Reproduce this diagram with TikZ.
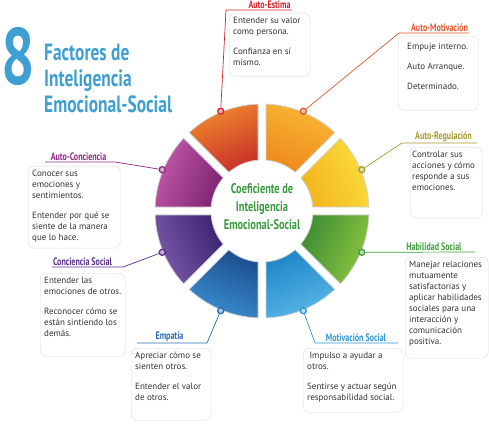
\documentclass[tikz,border=0pt]{standalone}
\usepackage{fontspec}
\setmainfont{PT Sans}
\newfontfamily\condfont[FakeStretch=0.74]{PT Sans}

\definecolor{titleblue}{HTML}{3D9FD3}
\definecolor{coefgreen}{HTML}{3A9A3D}
\definecolor{cEstima}{HTML}{D0232C}
\definecolor{cMotiv}{HTML}{E2572C}
\definecolor{cRegul}{HTML}{A39D2E}
\definecolor{cHabil}{HTML}{3E9F3A}
\definecolor{cMotSoc}{HTML}{2D96D2}
\definecolor{cEmpat}{HTML}{2C6AB0}
\definecolor{cConcSoc}{HTML}{5A2E8A}
\definecolor{cAutoConc}{HTML}{8C2A7F}

\tikzset{
  note/.style={draw=gray!30, fill=white, rounded corners=6pt, inner sep=4pt,
    anchor=north west, text=black!80, font=\fontsize{9}{11}\selectfont},
  head/.style={font=\condfont\bfseries\fontsize{10.8}{12}\selectfont, text=#1,
    inner sep=1.2pt, anchor=south},
  conn/.style={draw=#1, line width=0.7pt},
  dot/.style={circle, draw=#1, fill=#1!35!white, line width=1.3pt,
    inner sep=0pt, minimum size=6pt},
  segment/.style={draw=gray!35, line width=0.8pt},
}
\newcommand{\notetext}[3]{\begin{minipage}[t][#2][t]{#1}\raggedright #3\end{minipage}}

\begin{document}
\begin{tikzpicture}[x=1pt,y=1pt]
\useasboundingbox (0,0) rectangle (489,423);
\coordinate (ctr) at (262,212);
\def\Rout{107}\def\Rin{51}\def\gap{4}
\pgfmathsetmacro{\da}{asin(\gap/\Rout)}
\pgfmathsetmacro{\db}{asin(\gap/\Rin)}

% ring
\foreach \a/\cl/\cd in {112.5/F08A2C/C8302A, 67.5/F8B834/EE8A1E, 22.5/FBDD3E/F2B51C,
    -22.5/8CC63F/3E8E34, -67.5/5BB8E8/1F86C8, -112.5/3A8FD0/1C4E8E,
    -157.5/7A5AA8/3E2572, 157.5/C25AAA/7E2470}{
  \pgfmathsetmacro{\sa}{\a-22.5+\da}
  \pgfmathsetmacro{\ea}{\a+22.5-\da}
  \pgfmathsetmacro{\si}{\a-22.5+\db}
  \pgfmathsetmacro{\ei}{\a+22.5-\db}
  \pgfmathsetmacro{\sh}{\a-90}
  \definecolor{segL}{HTML}{\cl}
  \definecolor{segD}{HTML}{\cd}
  \draw[segment, top color=segL, bottom color=segD, shading angle=\sh]
    ([shift={(\sa:\Rout)}]ctr) arc[start angle=\sa, end angle=\ea, radius=\Rout]
    -- ([shift={(\ei:\Rin)}]ctr) arc[start angle=\ei, end angle=\si, radius=\Rin]
    -- cycle;
}

\node[font=\condfont\bfseries\fontsize{14}{18}\selectfont, text=coefgreen,
  align=center] (coef) at (262,216) {Coeficiente de\\Inteligencia\\Emocional-Social};

% title
\node[anchor=base west, inner sep=0pt, text=titleblue,
  font=\condfont\bfseries\fontsize{80}{80}\selectfont] (ocho) at (1,338) {8};
\node[anchor=north west, inner sep=0pt, text=titleblue, align=left,
  font=\condfont\bfseries\fontsize{23.5}{26}\selectfont] (titulo) at (44,379)
  {Factores de\\Inteligencia\\Emocional-Social};

% dots
\node[dot=cEstima] (dEstima) at ([shift={(112.5:108)}]ctr) {};
\node[dot=cMotiv] (dMotiv) at ([shift={(67.5:108)}]ctr) {};
\node[dot=cRegul] (dRegul) at ([shift={(22.5:108)}]ctr) {};
\node[dot=cHabil] (dHabil) at ([shift={(-22.5:108)}]ctr) {};
\node[dot=cMotSoc] (dMotSoc) at ([shift={(-67.5:108)}]ctr) {};
\node[dot=cEmpat] (dEmpat) at ([shift={(-112.5:108)}]ctr) {};
\node[dot=cConcSoc] (dConcSoc) at ([shift={(-157.5:108)}]ctr) {};
\node[dot=cAutoConc] (dAutoConc) at ([shift={(157.5:108)}]ctr) {};

% connectors
\coordinate (kEstima) at (226,413); \coordinate (eEstima) at (292,413);
\coordinate (kMotiv) at (399,390); \coordinate (eMotiv) at (469,390);
\coordinate (kRegul) at (402,280); \coordinate (eRegul) at (477,280);
\coordinate (eHabil) at (475,171);
\coordinate (kMotSoc) at (315,80); \coordinate (eMotSoc) at (398,80);
\coordinate (kEmpat) at (207,80); \coordinate (eEmpat) at (137,80);
\coordinate (kConcSoc) at (123,156); \coordinate (eConcSoc) at (52,156);
\coordinate (kAutoConc) at (115,261); \coordinate (eAutoConc) at (45,261);

\draw[conn=cEstima] (dEstima) -- (kEstima) -- (eEstima);
\draw[conn=cMotiv] (dMotiv) -- (kMotiv) -- (eMotiv);
\draw[conn=cRegul] (dRegul) -- (kRegul) -- (eRegul);
\draw[conn=cHabil] (dHabil) -- (eHabil);
\draw[conn=cMotSoc] (dMotSoc) -- (kMotSoc) -- (eMotSoc);
\draw[conn=cEmpat] (dEmpat) -- (kEmpat) -- (eEmpat);
\draw[conn=cConcSoc] (dConcSoc) -- (kConcSoc) -- (eConcSoc);
\draw[conn=cAutoConc] (dAutoConc) -- (kAutoConc) -- (eAutoConc);

% headers
\node[head=cEstima] (hEstima) at (269.5,413) {Auto-Estima};
\node[head=cMotiv] (hMotiv) at (439.5,390) {Auto-Motivación};
\node[head=cRegul] (hRegul) at (443.5,280) {Auto-Regulación};
\node[head=cHabil] (hHabil) at (434,171) {Habilidad Social};
\node[head=cMotSoc] (hMotSoc) at (356,80) {Motivación Social};
\node[head=cEmpat] (hEmpat) at (169.5,80) {Empatía};
\node[head=cConcSoc] (hConcSoc) at (82.5,156) {Conciencia Social};
\node[head=cAutoConc] (hAutoConc) at (78.5,261) {Auto-Conciencia};

% boxes
\node[note] (bEstima) at (229,410) {\notetext{73pt}{55pt}{Entender su valor\\como persona.\\[9pt]Confianza en sí\\mismo.}};
\node[note, inner xsep=9pt, inner ysep=7pt] (bMotiv) at (398,387) {\notetext{62pt}{60pt}{Empuje interno.\\[9pt]Auto Arranque.\\[9pt]Determinado.}};
\node[note, inner xsep=2pt] (bRegul) at (410,276) {\notetext{68pt}{63pt}{Controlar sus\\acciones y cómo\\responde a sus\\emociones.}};
\node[note] (bHabil) at (405,166) {\notetext{75pt}{93pt}{Manejar relaciones\\mutuamente\\satisfactorias y\\aplicar habilidades\\sociales para una\\interacción y\\comunicación\\positiva.}};
\node[note] (bMotSoc) at (303,75) {\notetext{92pt}{56pt}{\ Impulso a ayudar a\\otros.\\[9pt]Sentirse y actuar según\\responsabilidad social.}};
\node[note] (bEmpat) at (131,75) {\notetext{72pt}{64pt}{Apreciar cómo se\\sienten otros.\\[9pt]Entender el valor\\de otros.}};
\node[note] (bConcSoc) at (40,150) {\notetext{77pt}{75pt}{Entender las\\emociones de otros.\\[9pt]Reconocer cómo se\\están sintiendo los\\demás.}};
\node[note] (bAutoConc) at (28,257) {\notetext{84pt}{74pt}{Conocer sus\\emociones y\\sentimientos.\\[9pt]Entender por qué se\\siente de la manera\\que lo hace.}};
\end{tikzpicture}
\end{document}
